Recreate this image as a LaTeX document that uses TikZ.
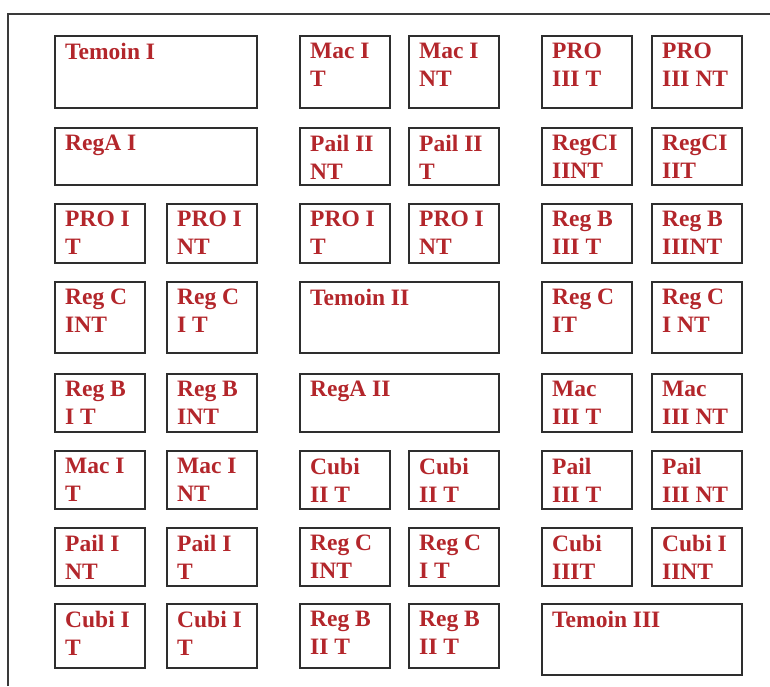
\documentclass[tikz,border=0pt]{standalone}
\usepackage{fontspec}
\setmainfont{Liberation Serif}
\usepackage{tikz}
\usetikzlibrary{positioning}
\definecolor{plotred}{HTML}{B3262B}
\definecolor{plotline}{HTML}{2E2E2E}
\definecolor{framegray}{HTML}{3A3A3A}
\tikzset{
    every node/.style={font=\bfseries\fontsize{23.5}{27.5}\selectfont},
    plot/.style={draw=plotline,line width=1.5pt,anchor=north west,inner sep=0pt,minimum width=90pt},
    wideplot/.style={plot,minimum width=#1},
    tag/.style={text=plotred,align=left,anchor=north west,inner sep=0pt,xshift=11pt,yshift=-8pt},
    frame/.style={draw=framegray,line width=1.3pt}
}
\begin{document}
\begin{tikzpicture}[x=1pt,y=-1pt]
    \useasboundingbox (0,0) rectangle (770,686);
    \draw[frame] (8,686) -- (8,14) -- (770,14);
    % row 1
    \node[wideplot=202pt,minimum height=72pt,label={[tag]north west:Temoin I}] (temoinI) at (54,35) {};
    \node[plot,minimum height=72pt,label={[tag]north west:Mac I\\T}] (macIT) at (299,35) {};
    \node[plot,minimum height=72pt,label={[tag]north west:Mac I\\NT}] (macINT) at (408,35) {};
    \node[plot,minimum height=72pt,label={[tag]north west:PRO\\III T}] (proIIIT) at (541,35) {};
    \node[plot,minimum height=72pt,label={[tag]north west:PRO\\III NT}] (proIIINT) at (651,35) {};
    % row 2
    \node[wideplot=202pt,minimum height=57pt,label={[tag]north west:RegA I}] (regAI) at (54,127) {};
    \node[plot,minimum height=57pt,label={[tag]north west:Pail II\\NT}] (pailIINT) at (299,127) {};
    \node[plot,minimum height=57pt,label={[tag]north west:Pail II\\T}] (pailIIT) at (408,127) {};
    \node[plot,minimum height=57pt,label={[tag]north west:RegCI\\IINT}] (regCIINT) at (541,127) {};
    \node[plot,minimum height=57pt,label={[tag]north west:RegCI\\IIT}] (regCIIT) at (651,127) {};
    % row 3
    \node[plot,minimum height=59pt,label={[tag]north west:PRO I\\T}] (proIT) at (54,203) {};
    \node[plot,minimum height=59pt,label={[tag]north west:PRO I\\NT}] (proINT) at (166,203) {};
    \node[plot,minimum height=59pt,label={[tag]north west:PRO I\\T}] (proITb) at (299,203) {};
    \node[plot,minimum height=59pt,label={[tag]north west:PRO I\\NT}] (proINTb) at (408,203) {};
    \node[plot,minimum height=59pt,label={[tag]north west:Reg B\\III T}] (regBIIIT) at (541,203) {};
    \node[plot,minimum height=59pt,label={[tag]north west:Reg B\\IIINT}] (regBIIINT) at (651,203) {};
    % row 4
    \node[plot,minimum height=71pt,label={[tag]north west:Reg C\\INT}] (regCINT) at (54,281) {};
    \node[plot,minimum height=71pt,label={[tag]north west:Reg C\\I T}] (regCIT) at (166,281) {};
    \node[wideplot=199pt,minimum height=71pt,label={[tag]north west:Temoin II}] (temoinII) at (299,281) {};
    \node[plot,minimum height=71pt,label={[tag]north west:Reg C\\IT}] (regCITc) at (541,281) {};
    \node[plot,minimum height=71pt,label={[tag]north west:Reg C\\I NT}] (regCINTc) at (651,281) {};
    % row 5
    \node[plot,minimum height=58pt,label={[tag]north west:Reg B\\I T}] (regBIT) at (54,373) {};
    \node[plot,minimum height=58pt,label={[tag]north west:Reg B\\INT}] (regBINT) at (166,373) {};
    \node[wideplot=199pt,minimum height=58pt,label={[tag]north west:RegA II}] (regAII) at (299,373) {};
    \node[plot,minimum height=58pt,label={[tag]north west:Mac\\III T}] (macIIIT) at (541,373) {};
    \node[plot,minimum height=58pt,label={[tag]north west:Mac\\III NT}] (macIIINT) at (651,373) {};
    % row 6
    \node[plot,minimum height=58pt,label={[tag]north west:Mac I\\T}] (macITb) at (54,450) {};
    \node[plot,minimum height=58pt,label={[tag]north west:Mac I\\NT}] (macINTb) at (166,450) {};
    \node[plot,minimum height=58pt,label={[tag]north west:Cubi\\II T}] (cubiIIT) at (299,450) {};
    \node[plot,minimum height=58pt,label={[tag]north west:Cubi\\II T}] (cubiIITb) at (408,450) {};
    \node[plot,minimum height=58pt,label={[tag]north west:Pail\\III T}] (pailIIIT) at (541,450) {};
    \node[plot,minimum height=58pt,label={[tag]north west:Pail\\III NT}] (pailIIINT) at (651,450) {};
    % row 7
    \node[plot,minimum height=58pt,label={[tag]north west:Pail I\\NT}] (pailINT) at (54,527) {};
    \node[plot,minimum height=58pt,label={[tag]north west:Pail I\\T}] (pailIT) at (166,527) {};
    \node[plot,minimum height=58pt,label={[tag]north west:Reg C\\INT}] (regCINTb) at (299,527) {};
    \node[plot,minimum height=58pt,label={[tag]north west:Reg C\\I T}] (regCITb) at (408,527) {};
    \node[plot,minimum height=58pt,label={[tag]north west:Cubi\\IIIT}] (cubiIIIT) at (541,527) {};
    \node[plot,minimum height=58pt,label={[tag]north west:Cubi I\\IINT}] (cubiIIINT) at (651,527) {};
    % row 8
    \node[plot,minimum height=64pt,label={[tag]north west:Cubi I\\T}] (cubiIT) at (54,603) {};
    \node[plot,minimum height=64pt,label={[tag]north west:Cubi I\\T}] (cubiITb) at (166,603) {};
    \node[plot,minimum height=64pt,label={[tag]north west:Reg B\\II T}] (regBIIT) at (299,603) {};
    \node[plot,minimum height=64pt,label={[tag]north west:Reg B\\II T}] (regBIITb) at (408,603) {};
    \node[wideplot=200pt,minimum height=71pt,label={[tag]north west:Temoin III}] (temoinIII) at (541,603) {};
\end{tikzpicture}
\end{document}
